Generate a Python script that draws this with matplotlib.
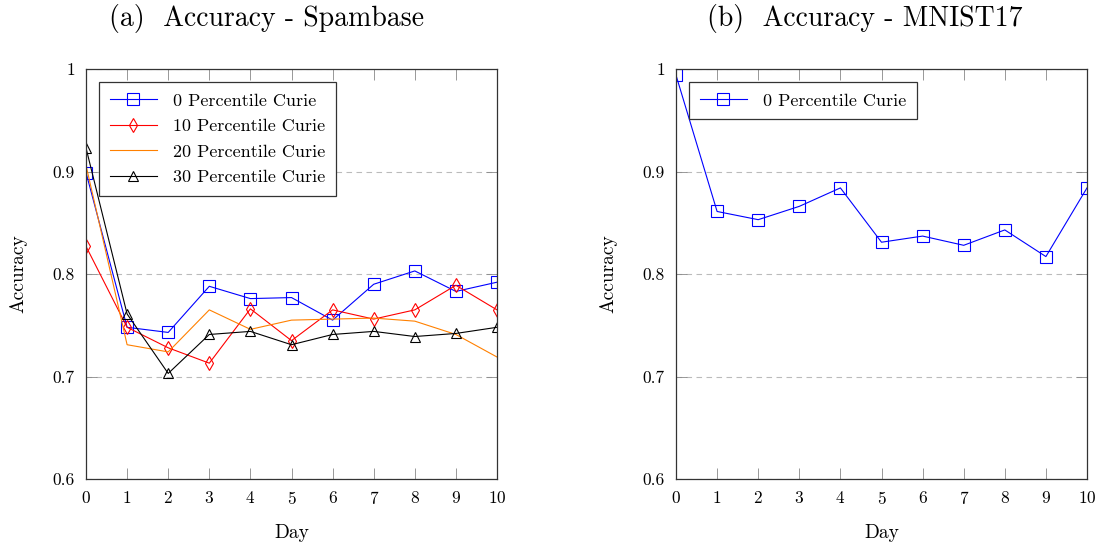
import matplotlib
matplotlib.use("Agg")
import matplotlib.pyplot as plt

plt.rcParams['font.family'] = ['cmr10', 'DejaVu Serif']
plt.rcParams['mathtext.fontset'] = 'cm'
plt.rcParams['axes.formatter.use_mathtext'] = True

days = list(range(11))
spam_p0 = [0.899, 0.748, 0.743, 0.788, 0.776, 0.777, 0.755, 0.790, 0.803, 0.783, 0.792]
spam_p10 = [0.827, 0.748, 0.728, 0.713, 0.766, 0.735, 0.765, 0.756, 0.765, 0.789, 0.765]
spam_p20 = [0.906, 0.731, 0.724, 0.765, 0.746, 0.755, 0.756, 0.757, 0.754, 0.741, 0.719]
spam_p30 = [0.923, 0.761, 0.703, 0.741, 0.744, 0.731, 0.741, 0.744, 0.739, 0.742, 0.748]
mnist_p0 = [0.994, 0.861, 0.853, 0.866, 0.884, 0.831, 0.837, 0.828, 0.843, 0.817, 0.884]

yticks = [0.6, 0.7, 0.8, 0.9, 1.0]
ytick_labels = ['0.6', '0.7', '0.8', '0.9', '1']
titles = ['(a)  Accuracy - Spambase', '(b)  Accuracy - MNIST17']
title_x = [0.438, 0.46]

fig = plt.figure(figsize=(11.02, 5.42), dpi=100)
W, H = 1102, 542
ax1 = fig.add_axes([86 / W, 1 - 479 / H, 411 / W, 410 / H])
ax2 = fig.add_axes([676 / W, 1 - 479 / H, 411 / W, 410 / H])

lw = 0.8
ax1.plot(days, spam_p0, color='#0000ff', lw=lw, marker='s', ms=8, mfc='none', mew=0.8, label='0 Percentile Curie')
ax1.plot(days, spam_p10, color='#ff0000', lw=lw, marker='d', ms=7, mfc='none', mew=0.8, label='10 Percentile Curie')
ax1.plot(days, spam_p20, color='#ff8000', lw=lw, label='20 Percentile Curie')
ax1.plot(days, spam_p30, color='black', lw=lw, marker='^', ms=7, mfc='none', mew=0.8, label='30 Percentile Curie')

ax2.plot(days, mnist_p0, color='#0000ff', lw=lw, marker='s', ms=8, mfc='none', mew=0.8, label='0 Percentile Curie')

for ax, title, tx in zip([ax1, ax2], titles, title_x):
    ax.set_xlim(0, 10)
    ax.set_ylim(0.6, 1.0)
    ax.set_xticks(days)
    ax.set_yticks(yticks)
    ax.set_yticklabels(ytick_labels)
    ax.tick_params(direction='in', top=True, right=True, labelsize=12.5, length=8, width=0.6, color='#888888', pad=8)
    ax.grid(axis='y', linestyle=(0, (5, 4)), color='#bbbbbb', lw=0.8)
    ax.set_axisbelow(True)
    for s in ax.spines.values():
        s.set_linewidth(0.9)
        s.set_color('#333333')
    ax.set_xlabel('Day', fontsize=14, labelpad=12)
    ax.set_ylabel('Accuracy', fontsize=14, labelpad=18)
    ax.set_title(title, fontsize=20, pad=31, x=tx)
    leg = ax.legend(loc='upper left', bbox_to_anchor=(0.032, 0.968), borderaxespad=0, fontsize=13, frameon=True,
                    fancybox=False, edgecolor='#333333', framealpha=1, handlelength=2.6, numpoints=1,
                    borderpad=0.6, labelspacing=0.55, handletextpad=0.9)
    leg.get_frame().set_linewidth(0.9)

fig.savefig('out.png', dpi=100)
